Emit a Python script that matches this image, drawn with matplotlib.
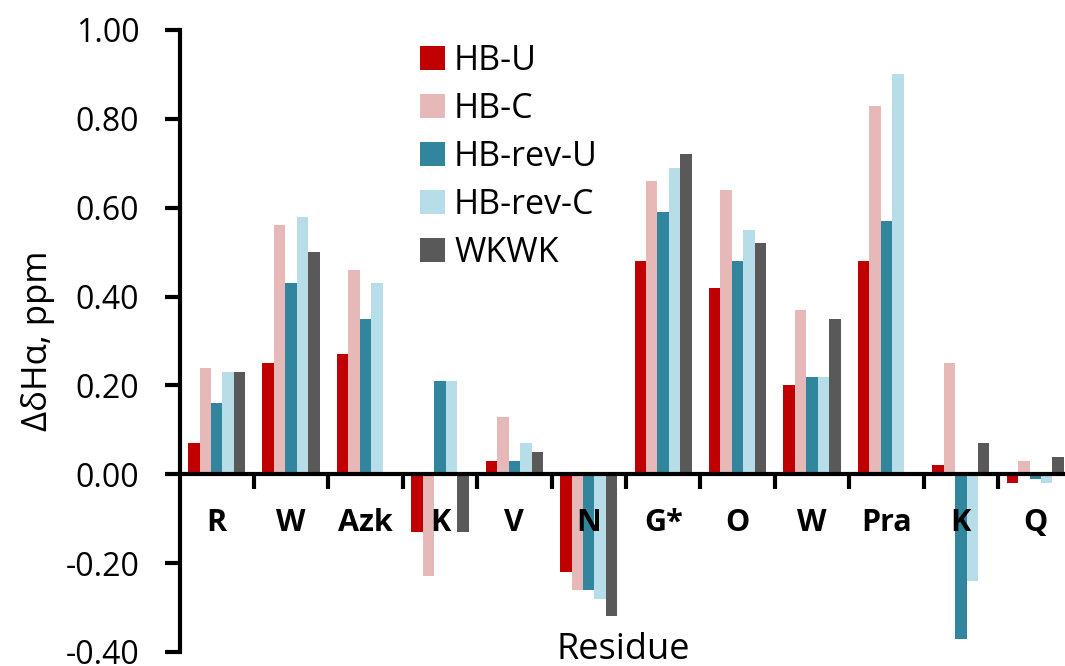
import numpy as np
import matplotlib
matplotlib.use("Agg")
import matplotlib.pyplot as plt

plt.rcParams['font.family'] = ['Open Sans', 'DejaVu Sans']

residues = ['R', 'W', 'Azk', 'K', 'V', 'N', 'G*', 'O', 'W', 'Pra', 'K', 'Q']
hb_u = [0.07, 0.25, 0.27, -0.13, 0.03, -0.22, 0.48, 0.42, 0.20, 0.48, 0.02, -0.02]
hb_c = [0.24, 0.56, 0.46, -0.23, 0.13, -0.26, 0.66, 0.64, 0.37, 0.83, 0.25, 0.03]
hb_rev_u = [0.16, 0.43, 0.35, 0.21, 0.03, -0.26, 0.59, 0.48, 0.22, 0.57, -0.37, -0.01]
hb_rev_c = [0.23, 0.58, 0.43, 0.21, 0.07, -0.28, 0.69, 0.55, 0.22, 0.90, -0.24, -0.02]
wkwk = [0.23, 0.50, 0.0, -0.13, 0.05, -0.32, 0.72, 0.52, 0.35, 0.0, 0.07, 0.04]

series = [('HB-U', hb_u, '#C00000'),
          ('HB-C', hb_c, '#E6B9B8'),
          ('HB-rev-U', hb_rev_u, '#31859C'),
          ('HB-rev-C', hb_rev_c, '#B7DEE8'),
          ('WKWK', wkwk, '#595959')]

W, H = 1065, 666
fig = plt.figure(figsize=(W / 100, H / 100), dpi=100)
ax = fig.add_axes([179.5 / W, 1 - 652 / H, (W - 179.5) / W, 622 / H])

x = np.arange(len(residues))
bw = 0.154
for k, (name, vals, col) in enumerate(series):
    ax.bar(x + (k - 2) * bw, vals, bw, color=col, label=name, linewidth=0)

ax.set_xlim(-0.5, 11.40)
ax.set_ylim(-0.4, 1.0)
yt = np.arange(-0.4, 1.01, 0.2)
ax.set_yticks(yt)
ax.set_yticklabels(['%.2f' % v for v in yt])

for s in ['top', 'right']:
    ax.spines[s].set_visible(False)
ax.spines['left'].set_linewidth(3)
ax.spines['bottom'].set_linewidth(3)
ax.spines['bottom'].set_position(('data', 0))

ax.tick_params(axis='y', direction='out', length=11, width=3, labelsize=23, pad=18)
ax.set_xticks([])
ax.set_xticks(np.arange(0.5, 11, 1), minor=True)
ax.tick_params(axis='x', which='minor', direction='out', length=11, width=3, labelbottom=False)

for i, r in enumerate(residues):
    ax.text(i, -0.11, r, ha='center', va='center', fontsize=22, fontweight='bold')

fig.text(38 / W, 1 - 341 / H, 'ΔδHα, ppm', rotation=90, ha='center', va='center', fontsize=25)
fig.text(623 / W, 1 - 650 / H, 'Residue', ha='center', va='center', fontsize=26)

ax.legend(loc='upper left', bbox_to_anchor=(420 / W, 1 - 44 / H), bbox_transform=fig.transFigure,
          frameon=False, fontsize=24.5, handlelength=0.73, handleheight=0.73,
          handletextpad=0.27, labelspacing=0.41, borderpad=0, borderaxespad=0)

fig.savefig('out.png', dpi=100)
